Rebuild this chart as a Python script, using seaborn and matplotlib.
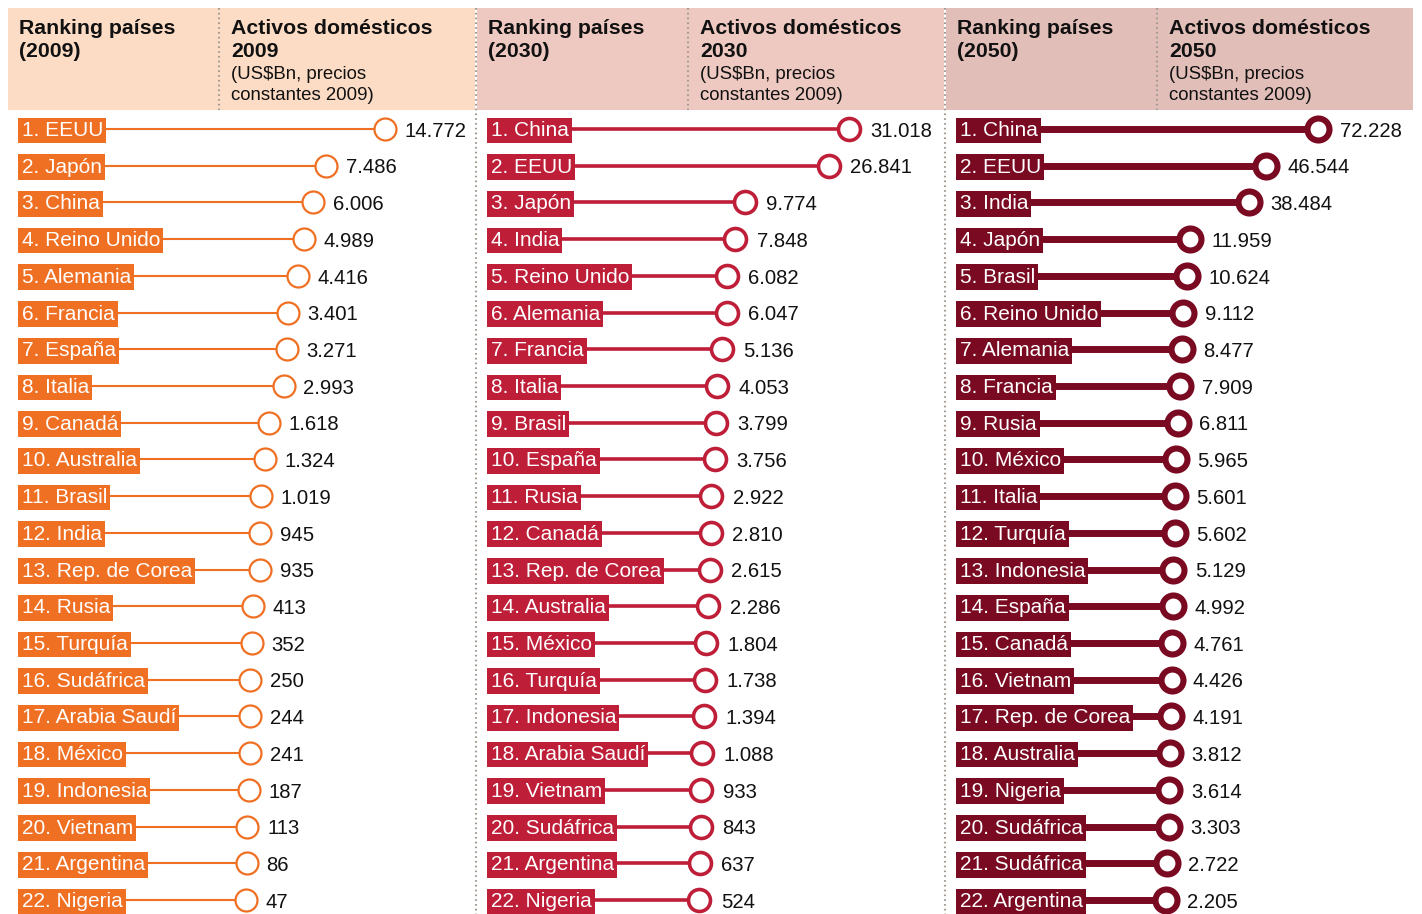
import numpy as np
import matplotlib.pyplot as plt
from matplotlib.patches import Rectangle
import seaborn as sns

# Data (US$Bn, constant 2009 prices)
countries_2009 = ['EEUU', 'Japón', 'China', 'Reino Unido', 'Alemania', 'Francia', 'España',
                  'Italia', 'Canadá', 'Australia', 'Brasil', 'India', 'Rep. de Corea', 'Rusia',
                  'Turquía', 'Sudáfrica', 'Arabia Saudí', 'México', 'Indonesia', 'Vietnam',
                  'Argentina', 'Nigeria']
assets_2009 = [14772, 7486, 6006, 4989, 4416, 3401, 3271, 2993, 1618, 1324, 1019, 945, 935,
               413, 352, 250, 244, 241, 187, 113, 86, 47]

countries_2030 = ['China', 'EEUU', 'Japón', 'India', 'Reino Unido', 'Alemania', 'Francia',
                  'Italia', 'Brasil', 'España', 'Rusia', 'Canadá', 'Rep. de Corea', 'Australia',
                  'México', 'Turquía', 'Indonesia', 'Arabia Saudí', 'Vietnam', 'Sudáfrica',
                  'Argentina', 'Nigeria']
assets_2030 = [31018, 26841, 9774, 7848, 6082, 6047, 5136, 4053, 3799, 3756, 2922, 2810, 2615,
               2286, 1804, 1738, 1394, 1088, 933, 843, 637, 524]

countries_2050 = ['China', 'EEUU', 'India', 'Japón', 'Brasil', 'Reino Unido', 'Alemania',
                  'Francia', 'Rusia', 'México', 'Italia', 'Turquía', 'Indonesia', 'España',
                  'Canadá', 'Vietnam', 'Rep. de Corea', 'Australia', 'Nigeria', 'Sudáfrica',
                  'Sudáfrica', 'Argentina']
assets_2050 = [72228, 46544, 38484, 11959, 10624, 9112, 8477, 7909, 6811, 5965, 5601, 5602,
               5129, 4992, 4761, 4426, 4191, 3812, 3614, 3303, 2722, 2205]

years = ['2009', '2030', '2050']

sns.set_theme(style='white')
plt.rcParams['font.family'] = ['Liberation Sans', 'DejaVu Sans']

W, H = 1422, 914
fig = plt.figure(figsize=(W / 100, H / 100), dpi=100)
fig.patch.set_facecolor('white')

# background layer in pixel units for headers and separators
bg = fig.add_axes([0, 0, 1, 1])
bg.set_xlim(0, W)
bg.set_ylim(H, 0)
bg.axis('off')

panels = [
    dict(names=countries_2009, values=assets_2009, color='#F07023', header='#FDDCC5',
         left=8, power=0.8, zero=0.5066, top=0.8073, stem=1.5, edge=1.6, gap=14.2),
    dict(names=countries_2030, values=assets_2030, color='#BE1E38', header='#EEC9C1',
         left=477, power=1.0, zero=0.4709, top=0.797, stem=2.6, edge=2.6, gap=15.4),
    dict(names=countries_2050, values=assets_2050, color='#7A0A22', header='#E2BEB9',
         left=946, power=0.9, zero=0.4553, top=0.797, stem=5.0, edge=4.4, gap=15.4),
]
panel_w = 467
dot_color = '#A39B93'
dots = (0, (0.8, 1.5))
ink = '#111111'

row_first, row_last = 129, 900
row_gap = (row_last - row_first) / 21
rows_top = 111


def power_funcs(p):
    fwd = lambda v: np.sign(v) * np.abs(v) ** p
    inv = lambda t: np.sign(t) * np.abs(t) ** (1 / p)
    return fwd, inv


def fmt(v):
    return f'{v:,}'.replace(',', '.')


for year, pnl in zip(years, panels):
    L = pnl['left']
    color = pnl['color']

    # header block
    bg.add_patch(Rectangle((L, 8), panel_w, 102, fc=pnl['header'], ec='none', zorder=0))
    bg.plot([L + 211, L + 211], [8, 110], color=dot_color, lw=1.5, ls=dots, zorder=1)
    bg.text(L + 11, 34, 'Ranking países', fontsize=15.3, fontweight='bold', color=ink, va='baseline')
    bg.text(L + 11, 57, f'({year})', fontsize=15.3, fontweight='bold', color=ink, va='baseline')
    bg.text(L + 223, 34, 'Activos domésticos', fontsize=15.3, fontweight='bold', color=ink, va='baseline')
    bg.text(L + 223, 57, year, fontsize=15.3, fontweight='bold', color=ink, va='baseline')
    bg.text(L + 223, 79, '(US$Bn, precios', fontsize=13.4, color=ink, va='baseline')
    bg.text(L + 223, 100, 'constantes 2009)', fontsize=13.4, color=ink, va='baseline')

    # rows
    ranks = np.arange(1, len(pnl['values']) + 1)
    values = np.array(pnl['values'], dtype=float)
    ax = fig.add_axes([L / W, 0, panel_w / W, (H - rows_top) / H])
    ax.patch.set_alpha(0)

    fwd, inv = power_funcs(pnl['power'])
    ax.set_xscale('function', functions=(fwd, inv))
    span = fwd(values.max()) / (pnl['top'] - pnl['zero'])
    t_lo = -pnl['zero'] * span
    ax.set_xlim(inv(t_lo), inv(t_lo + span))
    stem_start = inv(t_lo + 0.05 * span)
    y_top = 1 - (row_first - rows_top) / row_gap
    y_bot = 22 + (H - row_last) / row_gap
    ax.set_ylim(y_bot, y_top)

    ax.hlines(ranks, stem_start, values, color=color, lw=pnl['stem'], zorder=1)
    sns.scatterplot(x=values, y=ranks, ax=ax, s=250, color='white', edgecolor=color,
                    linewidth=pnl['edge'], zorder=3, legend=False)

    for r, name, v in zip(ranks, pnl['names'], pnl['values']):
        ax.annotate(f'{r}. {name}', xy=(0, r), xycoords=('axes fraction', 'data'),
                    xytext=(9.8, -5.0), textcoords='offset points', ha='left', va='baseline',
                    fontsize=15, color='white', zorder=2,
                    bbox=dict(boxstyle='square,pad=0.16', fc=color, ec='none'))
        ax.annotate(fmt(v), xy=(v, r), xytext=(pnl['gap'], -5.6), textcoords='offset points',
                    ha='left', va='baseline', fontsize=14.6, color=ink, zorder=4)
    ax.axis('off')

# dotted panel separators
for x in (476, 945):
    bg.plot([x, x], [8, H], color=dot_color, lw=1.5, ls=dots, zorder=1)

fig.savefig('out.png', dpi=100, facecolor='white')
